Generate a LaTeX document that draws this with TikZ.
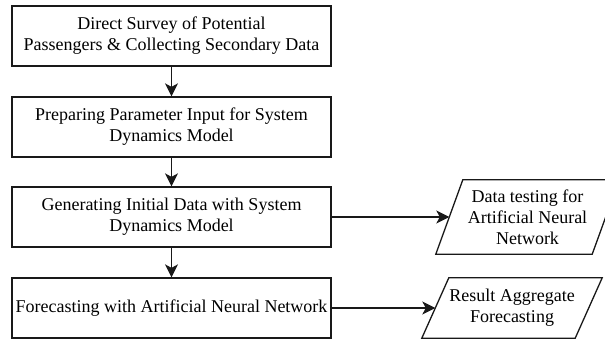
\documentclass[tikz,border=0pt]{standalone}
\usepackage{fontspec}
\setmainfont{Liberation Serif}
\usetikzlibrary{arrows.meta,calc}
\begin{document}
\begin{tikzpicture}[x=1pt,y=1pt,
  every node/.style={font=\fontsize{18}{21}\selectfont, align=center, inner sep=0.5pt},
  procbox/.style={draw=black!90, line width=1.3pt, minimum width=319pt, minimum height=60pt},
  iobox/.style={minimum height=#1},
  flow/.style={draw=black!90, line width=1.3pt, -{Stealth[length=13pt,width=13pt,inset=3.5pt]}},
  ioline/.style={draw=black!90, line width=1.3pt, line join=miter}
]
\useasboundingbox (0,0) rectangle (605,341);

% process steps
\node[procbox] (survey) at (171.5,305) {Direct Survey of Potential\\Passengers \& Collecting Secondary Data};
\node[procbox] (param)  at (171.5,214) {Preparing Parameter Input for System\\Dynamics Model};
\node[procbox] (gen)    at (171.5,124) {Generating Initial Data with System\\Dynamics Model};
\node[procbox] (fcst)   at (171.5,33)  {Forecasting with Artificial Neural Network};

% data outputs (parallelograms)
\node[iobox=74pt, minimum width=156pt] (test) at (527.5,124) {Data testing for\\Artificial Neural\\Network};
\node[iobox=60pt, minimum width=153pt] (res)  at (512,33) {Result Aggregate\\Forecasting};

\path[ioline] ($(test.south west)+(-13.5,0)$) -- ($(test.north west)+(13.5,0)$)
  -- ($(test.north east)+(13.5,0)$) -- ($(test.south east)+(-13.5,0)$) -- cycle;
\path[ioline] ($(res.south west)+(-13.5,0)$) -- ($(res.north west)+(13.5,0)$)
  -- ($(res.north east)+(13.5,0)$) -- ($(res.south east)+(-13.5,0)$) -- cycle;

% connectors
\draw[flow] (survey) -- (param);
\draw[flow] (param) -- (gen);
\draw[flow] (gen) -- (fcst);
\draw[flow] (gen.east) -- (test.west);
\draw[flow] (fcst.east) -- (res.west);
\end{tikzpicture}
\end{document}
